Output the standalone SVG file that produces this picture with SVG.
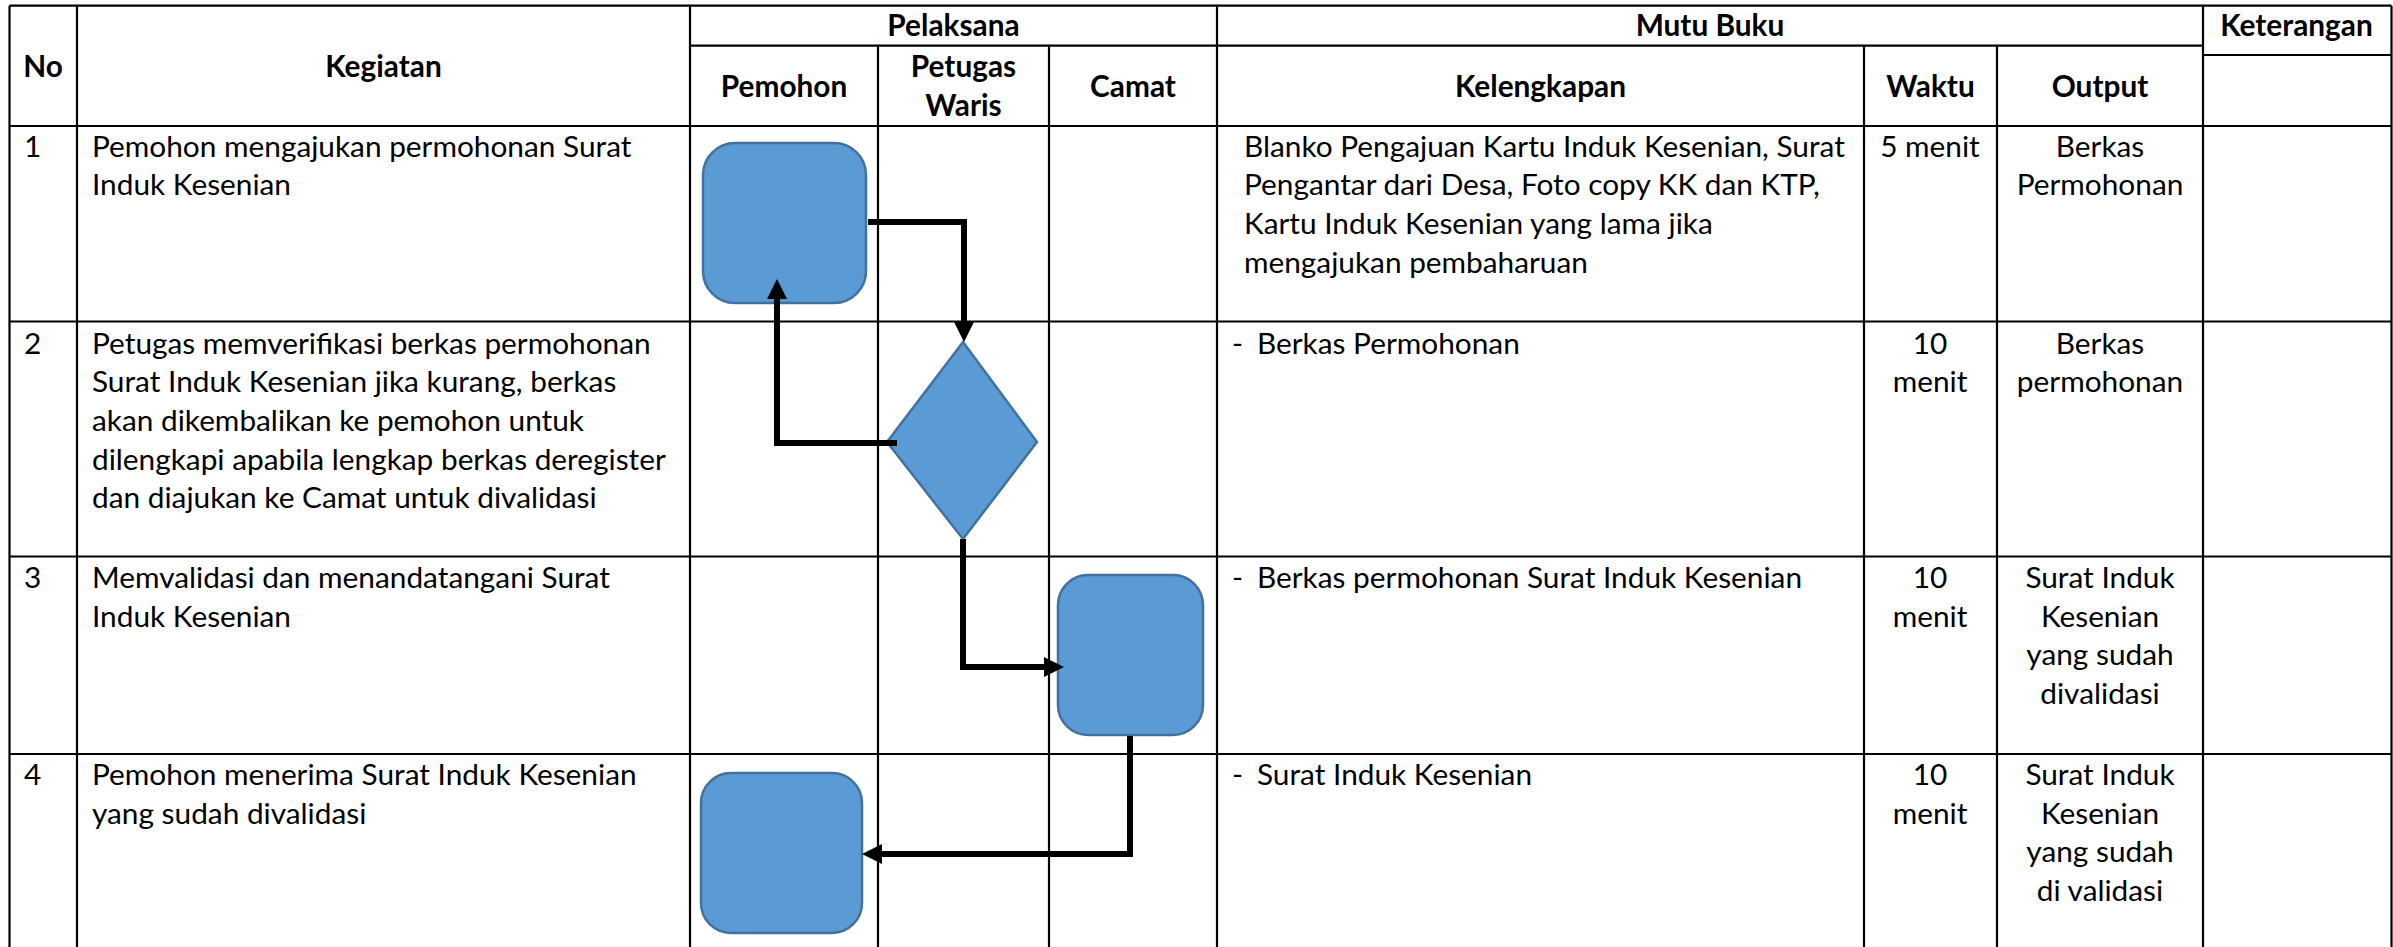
<svg xmlns="http://www.w3.org/2000/svg" width="2393" height="947" viewBox="0 0 2393 947">
<style>
.g{stroke:#000;stroke-width:2.2;fill:none}
.t{font-family:Lato,"Liberation Sans",sans-serif;font-size:29.8px;fill:#000}
.h{font-weight:bold;text-anchor:middle}
.m{text-anchor:middle}
.s{fill:#5B9BD5;stroke:#41719C;stroke-width:2.5}
.c{fill:none;stroke:#000;stroke-width:6;stroke-linejoin:miter}
</style>
<defs>
<marker id="ah" viewBox="0 0 20 20" markerUnits="userSpaceOnUse" markerWidth="20" markerHeight="20" refX="0" refY="10" orient="auto">
<path d="M0,0 L20,10 L0,20 z" fill="#000"/>
</marker>
</defs>
<rect width="2393" height="947" fill="#fff"/>
<g id="grid" class="g">
<path d="M9.5,5.7 H2391.5 M690,45.7 H2203 M2203,55 H2391.5 M9.5,126 H2391.5 M9.5,321.5 H2391.5 M9.5,556.5 H2391.5 M9.5,754 H2391.5"/>
<path d="M9.5,5.7 V947 M77,5.7 V947 M690,5.7 V947 M878,45.7 V947 M1049,45.7 V947 M1217,5.7 V947 M1864,45.7 V947 M1997,45.7 V947 M2203,5.7 V947 M2391.5,5.7 V947"/>
</g>
<g id="header" class="t h">
<text x="43" y="77">No</text>
<text x="383.5" y="77">Kegiatan</text>
<text x="953.5" y="36">Pelaksana</text>
<text x="784" y="96.7">Pemohon</text>
<text x="963.5" y="77">Petugas</text>
<text x="963.5" y="116">Waris</text>
<text x="1133" y="96.7">Camat</text>
<text x="1710" y="36">Mutu Buku</text>
<text x="2296.5" y="36">Keterangan</text>
<text x="1540.5" y="96.7">Kelengkapan</text>
<text x="1930.5" y="96.7">Waktu</text>
<text x="2100" y="96.7">Output</text>
</g>
<g id="row1" class="t">
<text x="24" y="156.7">1</text>
<text x="92" y="156.7">Pemohon mengajukan permohonan Surat</text>
<text x="92" y="195.4">Induk Kesenian</text>
<text x="1244" y="156.7">Blanko Pengajuan Kartu Induk Kesenian, Surat</text>
<text x="1244" y="195.4">Pengantar dari Desa, Foto copy KK dan KTP,</text>
<text x="1244" y="234.1">Kartu Induk Kesenian yang lama jika</text>
<text x="1244" y="272.8">mengajukan pembaharuan</text>
<text class="m" x="1930" y="156.7">5 menit</text>
<text class="m" x="2100" y="156.7">Berkas</text>
<text class="m" x="2100" y="195.4">Permohonan</text>
</g>
<g id="row2" class="t">
<text x="24" y="353.5">2</text>
<text x="92" y="353.5">Petugas memverifikasi berkas permohonan</text>
<text x="92" y="392.2">Surat Induk Kesenian jika kurang, berkas</text>
<text x="92" y="430.9">akan dikembalikan ke pemohon untuk</text>
<text x="92" y="469.6">dilengkapi apabila lengkap berkas deregister</text>
<text x="92" y="508.3">dan diajukan ke Camat untuk divalidasi</text>
<text x="1232" y="353.5">-</text>
<text x="1257" y="353.5">Berkas Permohonan</text>
<text class="m" x="1930" y="353.5">10</text>
<text class="m" x="1930" y="392.2">menit</text>
<text class="m" x="2100" y="353.5">Berkas</text>
<text class="m" x="2100" y="392.2">permohonan</text>
</g>
<g id="row3" class="t">
<text x="24" y="588">3</text>
<text x="92" y="588">Memvalidasi dan menandatangani Surat</text>
<text x="92" y="626.7">Induk Kesenian</text>
<text x="1232" y="588">-</text>
<text x="1257" y="588">Berkas permohonan Surat Induk Kesenian</text>
<text class="m" x="1930" y="588">10</text>
<text class="m" x="1930" y="626.7">menit</text>
<text class="m" x="2100" y="588">Surat Induk</text>
<text class="m" x="2100" y="626.7">Kesenian</text>
<text class="m" x="2100" y="665.4">yang sudah</text>
<text class="m" x="2100" y="704.1">divalidasi</text>
</g>
<g id="row4" class="t">
<text x="24" y="785">4</text>
<text x="92" y="785">Pemohon menerima Surat Induk Kesenian</text>
<text x="92" y="823.7">yang sudah divalidasi</text>
<text x="1232" y="785">-</text>
<text x="1257" y="785">Surat Induk Kesenian</text>
<text class="m" x="1930" y="785">10</text>
<text class="m" x="1930" y="823.7">menit</text>
<text class="m" x="2100" y="785">Surat Induk</text>
<text class="m" x="2100" y="823.7">Kesenian</text>
<text class="m" x="2100" y="862.4">yang sudah</text>
<text class="m" x="2100" y="901.1">di validasi</text>
</g>
<g id="node1"><rect class="s" x="703" y="143" width="163" height="160" rx="32"/></g>
<g id="node2"><path class="s" d="M963,342 L1037,442 L963,539 L887,442 Z"/></g>
<g id="node3"><rect class="s" x="1058" y="575" width="145" height="160" rx="30"/></g>
<g id="node4"><rect class="s" x="701" y="773" width="161" height="160" rx="30"/></g>
<g id="connectors">
<path class="c" d="M868,222 H964 V322" marker-end="url(#ah)"/>
<path class="c" d="M897,443 H777 V299" marker-end="url(#ah)"/>
<path class="c" d="M963,539 V667 H1044" marker-end="url(#ah)"/>
<path class="c" d="M1130,736 V854 H882" marker-end="url(#ah)"/>
</g>
</svg>
